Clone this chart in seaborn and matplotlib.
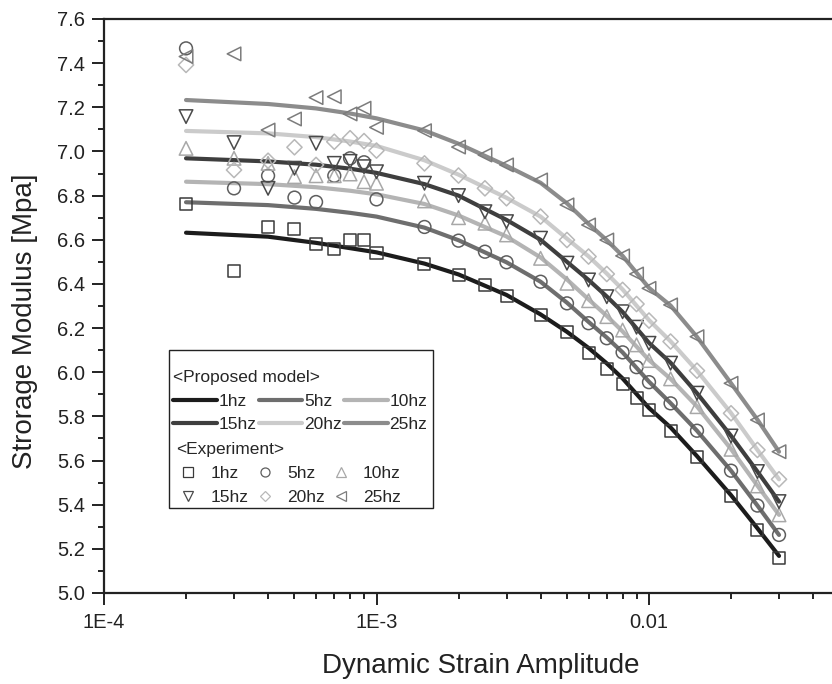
import numpy as np
import pandas as pd
import matplotlib
matplotlib.use("Agg")
import matplotlib.pyplot as plt
import seaborn as sns
from matplotlib.lines import Line2D
from matplotlib.patches import Rectangle
from matplotlib.ticker import FixedLocator, FixedFormatter, MultipleLocator, FormatStrFormatter, NullFormatter

# ---------------- data ----------------
freqs = ["1hz", "5hz", "10hz", "15hz", "20hz", "25hz"]

# experimental strain grid
strain_exp = [2e-4, 3e-4, 4e-4, 5e-4, 6e-4, 7e-4, 8e-4, 9e-4, 1e-3, 1.5e-3, 2e-3, 2.5e-3,
              3e-3, 4e-3, 5e-3, 6e-3, 7e-3, 8e-3, 9e-3, 1e-2, 1.2e-2, 1.5e-2, 2e-2, 2.5e-2, 3e-2]
exp_1hz = [6.76, 6.46, 6.66, 6.65, 6.58, 6.56, 6.60, 6.60, 6.54, 6.49, 6.44, 6.395, 6.347,
           6.26, 6.181, 6.086, 6.013, 5.946, 5.885, 5.829, 5.734, 5.618, 5.44, 5.286, 5.158]
exp_5hz = [7.467, 6.833, 6.89, 6.791, 6.771, 6.89, 6.969, 6.951, 6.783, 6.658, 6.596, 6.546, 6.498,
           6.41, 6.312, 6.222, 6.154, 6.09, 6.023, 5.955, 5.859, 5.735, 5.554, 5.396, 5.263]
exp_10hz = [7.014, 6.969, 6.946, 6.886, 6.89, 6.89, 6.898, 6.863, 6.856, 6.776, 6.70, 6.675, 6.622,
            6.516, 6.403, 6.324, 6.252, 6.191, 6.124, 6.053, 5.970, 5.844, 5.651, 5.485, 5.354]
exp_15hz = [7.158, 7.04, 6.833, 6.924, 7.037, 6.946, 6.955, 6.931, 6.908, 6.856, 6.80, 6.727, 6.682,
            6.607, 6.494, 6.418, 6.342, 6.274, 6.204, 6.131, 6.041, 5.905, 5.711, 5.55, 5.414]
exp_20hz = [7.392, 6.916, 6.958, 7.019, 6.939, 7.044, 7.06, 7.047, 7.004, 6.946, 6.891, 6.833, 6.788,
            6.705, 6.599, 6.524, 6.445, 6.373, 6.309, 6.234, 6.139, 6.007, 5.814, 5.648, 5.515]
exp_25hz = [7.43, 7.442, 7.097, 7.147, 7.244, 7.248, 7.17, 7.196, 7.109, 7.094, 7.02, 6.984, 6.939,
            6.871, 6.758, 6.667, 6.599, 6.527, 6.445, 6.38, 6.305, 6.161, 5.95, 5.784, 5.64]

# proposed model curves
strain_model = [2e-4, 4e-4, 6e-4, 8e-4, 1e-3, 1.5e-3, 2e-3, 3e-3, 4e-3, 5e-3, 6e-3, 7e-3, 8e-3,
                1e-2, 1.2e-2, 1.5e-2, 2e-2, 2.5e-2, 3e-2]
mod_1hz = [6.632, 6.614, 6.586, 6.562, 6.543, 6.492, 6.443, 6.350, 6.262, 6.183, 6.110, 6.040, 5.972,
           5.838, 5.750, 5.620, 5.443, 5.293, 5.168]
mod_5hz = [6.770, 6.757, 6.740, 6.722, 6.705, 6.655, 6.598, 6.498, 6.410, 6.315, 6.228, 6.157, 6.090,
           5.957, 5.860, 5.735, 5.554, 5.396, 5.263]
mod_10hz = [6.863, 6.852, 6.838, 6.822, 6.806, 6.762, 6.710, 6.615, 6.520, 6.420, 6.330, 6.255, 6.185,
            6.055, 5.970, 5.845, 5.652, 5.486, 5.354]
mod_15hz = [6.969, 6.955, 6.940, 6.922, 6.903, 6.852, 6.800, 6.690, 6.600, 6.500, 6.418, 6.343, 6.273,
            6.133, 6.043, 5.905, 5.712, 5.550, 5.414]
mod_20hz = [7.093, 7.082, 7.065, 7.045, 7.025, 6.960, 6.895, 6.790, 6.705, 6.605, 6.525, 6.447, 6.375,
            6.236, 6.140, 6.007, 5.815, 5.648, 5.515]
mod_25hz = [7.233, 7.215, 7.195, 7.172, 7.150, 7.095, 7.035, 6.935, 6.858, 6.765, 6.672, 6.598, 6.527,
            6.382, 6.302, 6.160, 5.950, 5.785, 5.640]

xtick_values = [1e-4, 1e-3, 1e-2]
xtick_labels = ["1E-4", "1E-3", "0.01"]

# ---------------- styles ----------------
line_colors = ["#1c1c1c", "#6e6e6e", "#b4b4b4", "#3e3e3e", "#cbcbcb", "#8c8c8c"]
mark_colors = ["#3a3a3a", "#5e5e5e", "#a8a8a8", "#4a4a4a", "#b8b8b8", "#7c7c7c"]
markers = ["s", "o", "^", "v", "D", "<"]
msizes = [75, 85, 95, 95, 60, 95]

sns.set_style("ticks")
plt.rcParams["font.family"] = ["Liberation Sans", "DejaVu Sans"]

models = [mod_1hz, mod_5hz, mod_10hz, mod_15hz, mod_20hz, mod_25hz]
exps = [exp_1hz, exp_5hz, exp_10hz, exp_15hz, exp_20hz, exp_25hz]

df_model = pd.concat([pd.DataFrame({"strain": strain_model, "E": m, "freq": f})
                      for f, m in zip(freqs, models)], ignore_index=True)
df_exp = pd.concat([pd.DataFrame({"strain": strain_exp, "E": e, "freq": f})
                    for f, e in zip(freqs, exps)], ignore_index=True)

fig = plt.figure(figsize=(8.32, 6.84), dpi=100)
ax = fig.add_axes([104 / 832, (684 - 593) / 684, 728 / 832, 574 / 684])

sns.lineplot(data=df_model, x="strain", y="E", hue="freq", hue_order=freqs,
             palette=dict(zip(freqs, line_colors)), linewidth=3.0, legend=False,
             sort=False, ax=ax, zorder=2)

for f, c, m, s in zip(freqs, mark_colors, markers, msizes):
    sub = df_exp[df_exp["freq"] == f]
    sns.scatterplot(x=sub["strain"], y=sub["E"], marker=m, s=s, facecolors="none",
                    edgecolors=c, linewidths=1.1, ax=ax, zorder=3, legend=False)

ax.set_xscale("log")
ax.set_xlim(1e-4, 10 ** (-2 + 183 / 272.5))
ax.set_ylim(5.0, 7.6)

ax.xaxis.set_major_locator(FixedLocator(xtick_values))
ax.xaxis.set_major_formatter(FixedFormatter(xtick_labels))
minor_x = [k * 10.0 ** d for d in (-4, -3, -2) for k in range(2, 10)]
ax.xaxis.set_minor_locator(FixedLocator(minor_x))
ax.xaxis.set_minor_formatter(NullFormatter())
ax.yaxis.set_major_locator(MultipleLocator(0.2))
ax.yaxis.set_minor_locator(MultipleLocator(0.1))
ax.yaxis.set_major_formatter(FormatStrFormatter("%.1f"))

ax.tick_params(axis="both", which="major", direction="out", length=8.5, width=1.4,
               labelsize=14.5, color="#222222", labelcolor="#222222")
ax.tick_params(axis="x", which="major", pad=6)
ax.tick_params(axis="y", which="major", pad=5)
ax.tick_params(axis="both", which="minor", direction="out", length=4.3, width=1.4, color="#222222")
ax.tick_params(top=False, right=False, which="both")

for side in ["left", "bottom", "top"]:
    ax.spines[side].set_linewidth(1.6)
    ax.spines[side].set_color("#222222")
ax.spines["right"].set_visible(False)

ax.set_xlabel("Dynamic Strain Amplitude", fontsize=20, color="#222222")
ax.set_ylabel("Strorage Modulus [Mpa]", fontsize=20, color="#222222")
ax.xaxis.set_label_coords((481 - 104) / 728, -(666 - 593) / 574)
ax.yaxis.set_label_coords(-(104 - 25) / 728, (593 - 321) / 574)
ax.xaxis.label.set_va("center")
ax.yaxis.label.set_va("center")

# ---------------- legend ----------------
order = [0, 3, 1, 4, 2, 5]
line_handles = [Line2D([], [], color=line_colors[i], lw=3.0) for i in order]
mark_handles = [Line2D([], [], linestyle="none", marker=markers[i], markersize=6.5 if markers[i] != "D" else 5,
                       markerfacecolor="none", markeredgecolor=mark_colors[i], markeredgewidth=0.9)
                for i in order]
labels = [freqs[i] for i in order]

x0 = (169 - 104) / 728
x1 = (433 - 104) / 728
ytop = (593 - 350) / 574
ybot = (593 - 508) / 574
lfs = 12.5

leg1 = ax.legend(line_handles, labels, title="<Proposed model>", ncol=3, loc="upper left",
                 bbox_to_anchor=((168 - 104) / 728, (593 - 365) / 574), bbox_transform=ax.transAxes,
                 borderaxespad=0, frameon=False, fontsize=lfs, title_fontsize=lfs, handlelength=2.5,
                 handletextpad=0.1, columnspacing=0.15, labelspacing=0.48, borderpad=0.3,
                 alignment="left")
ax.add_artist(leg1)
leg2 = ax.legend(mark_handles, labels, title="<Experiment>", ncol=3, loc="upper left",
                 bbox_to_anchor=((171 - 104) / 728, (593 - 437) / 574), bbox_transform=ax.transAxes,
                 borderaxespad=0, frameon=False, fontsize=lfs, title_fontsize=lfs, handlelength=1.4,
                 handletextpad=0.6, columnspacing=0.2, labelspacing=0.5, borderpad=0.3,
                 alignment="left")
ax.add_patch(Rectangle((x0, ybot), x1 - x0, ytop - ybot, transform=ax.transAxes,
                       fill=False, edgecolor="#222222", linewidth=1.0, zorder=5))

fig.savefig("out.png", dpi=100)
